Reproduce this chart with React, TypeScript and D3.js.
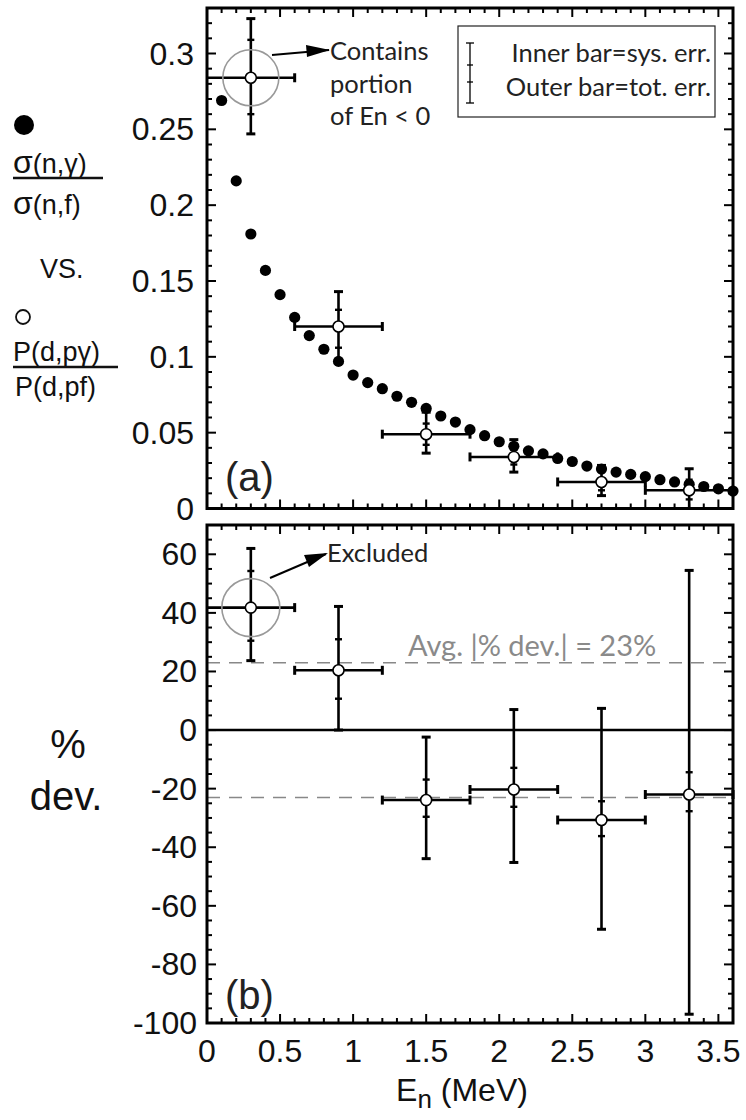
import React from "react";
import * as d3 from "d3";

// ---------- data ----------
// filled dots: sigma(n,gamma)/sigma(n,f)
const dotE = [0.1,0.2,0.3,0.4,0.5,0.6,0.7,0.8,0.9,1.0,1.1,1.2,1.3,1.4,1.5,1.6,1.7,1.8,1.9,2.0,2.1,2.2,2.3,2.4,2.5,2.6,2.7,2.8,2.9,3.0,3.1,3.2,3.3,3.4,3.5,3.6];
const dotR = [0.269,0.216,0.181,0.157,0.141,0.126,0.114,0.105,0.097,0.088,0.083,0.079,0.074,0.070,0.066,0.061,0.057,0.052,0.048,0.044,0.041,0.038,0.036,0.033,0.031,0.028,0.026,0.024,0.0225,0.021,0.019,0.0175,0.016,0.0145,0.013,0.0115];

// open points (surrogate ratio)
const binCenter = [0.3, 0.9, 1.5, 2.1, 2.7, 3.3];
const binLo = [0.0, 0.6, 1.2, 1.8, 2.4, 3.0];
const binHi = [0.6, 1.2, 1.8, 2.4, 3.0, 3.6];
const ratio = [0.284, 0.120, 0.049, 0.034, 0.0175, 0.012];
const ratioTotLo = [0.247, 0.096, 0.0365, 0.024, 0.0085, 0.0];
const ratioTotHi = [0.323, 0.143, 0.0635, 0.0454, 0.0284, 0.0262];
const ratioSysLo = [0.260, 0.106, 0.042, 0.029, 0.012, 0.006];
const ratioSysHi = [0.309, 0.131, 0.056, 0.040, 0.024, 0.019];

// % deviation
const dev = [41.8, 20.4, -23.9, -20.3, -30.7, -22.0];
const devTotLo = [23.7, 0.0, -43.9, -45.2, -68.0, -97.0];
const devTotHi = [62.0, 42.2, -2.4, 7.0, 7.4, 54.5];
const devSysLo = [30.5, 10.7, -29.6, -26.2, -36.2, -27.7];
const devSysHi = [54.3, 31.0, -16.9, -12.9, -24.3, -14.4];
const avgDev = 23;

const xTicks = [0, 0.5, 1, 1.5, 2, 2.5, 3, 3.5];
const xTickLabels = ["0", "0.5", "1", "1.5", "2", "2.5", "3", "3.5"];
const yTopTicks = [0, 0.05, 0.1, 0.15, 0.2, 0.25, 0.3];
const yTopLabels = ["0", "0.05", "0.1", "0.15", "0.2", "0.25", "0.3"];
const yBotTicks = [-100, -80, -60, -40, -20, 0, 20, 40, 60];
const yBotLabels = ["-100", "-80", "-60", "-40", "-20", "0", "20", "40", "60"];

// ---------- layout ----------
const W = 746, H = 1120;
const L = 207, R = 733;
const topT = 8, topB = 508.5;
const botT = 525, botB = 1023;

const HELV = "'Liberation Sans', Arial, Helvetica, sans-serif";
const MYR = "Lato, 'Open Sans', sans-serif";

function range(a: number, b: number, step: number) {
  const out: number[] = [];
  const n = Math.round((b - a) / step);
  for (let i = 0; i <= n; i++) out.push(+(a + i * step).toFixed(6));
  return out;
}

function Frame({ x, y, yMinor, yMajor, top, bottom }: any) {
  const xMinor = range(0, 3.6, 0.1);
  const maj = 9, min = 5;
  const isMajX = (v: number) => Math.abs(v * 2 - Math.round(v * 2)) < 1e-6;
  return (
    <g>
      {xMinor.map((v, i) => {
        const len = isMajX(v) ? maj : min;
        return (
          <g key={"x" + i}>
            <line x1={x(v)} x2={x(v)} y1={bottom} y2={bottom - len} stroke="#000" strokeWidth={2} />
            <line x1={x(v)} x2={x(v)} y1={top} y2={top + len} stroke="#000" strokeWidth={2} />
          </g>
        );
      })}
      {yMinor.map((v: number, i: number) => {
        const len = yMajor(v) ? maj : min;
        return (
          <g key={"y" + i}>
            <line x1={L} x2={L + len} y1={y(v)} y2={y(v)} stroke="#000" strokeWidth={2} />
            <line x1={R} x2={R - len} y1={y(v)} y2={y(v)} stroke="#000" strokeWidth={2} />
          </g>
        );
      })}
      <rect x={L} y={top} width={R - L} height={bottom - top} fill="none" stroke="#000" strokeWidth={3} />
    </g>
  );
}

function ErrPoint({ x, y, cx, lo, hi, v, tlo, thi, slo, shi, clipTop, clipBot }: any) {
  const px = x(cx), py = y(v);
  const yTop = Math.max(y(thi), clipTop);
  const yBot = Math.min(y(tlo), clipBot);
  const xl = Math.max(x(lo), L), xr = Math.min(x(hi), R);
  return (
    <g stroke="#000" strokeWidth={2.6} fill="none">
      <line x1={px} x2={px} y1={yTop} y2={yBot} />
      {y(thi) >= clipTop && <line x1={px - 4.5} x2={px + 4.5} y1={y(thi)} y2={y(thi)} strokeWidth={3} />}
      {y(tlo) <= clipBot && <line x1={px - 4.5} x2={px + 4.5} y1={y(tlo)} y2={y(tlo)} strokeWidth={3} />}
      <line x1={px - 3.5} x2={px + 3.5} y1={y(shi)} y2={y(shi)} strokeWidth={2.4} />
      <line x1={px - 3.5} x2={px + 3.5} y1={y(slo)} y2={y(slo)} strokeWidth={2.4} />
      <line x1={xl} x2={xr} y1={py} y2={py} />
      {x(lo) > L && <line x1={xl} x2={xl} y1={py - 4.5} y2={py + 4.5} strokeWidth={3} />}
      <line x1={xr} x2={xr} y1={py - 4.5} y2={py + 4.5} strokeWidth={3} />
      <circle cx={px} cy={py} r={5.5} fill="#fff" stroke="#000" strokeWidth={1.6} />
    </g>
  );
}

export default function App() {
  const x = d3.scaleLinear().domain([0, 3.6]).range([L, R]);
  const yT = d3.scaleLinear().domain([0, 0.33]).range([topB, topT]);
  const yB = d3.scaleLinear().domain([-100, 70]).range([botB, botT]);

  const yTopMinor = range(0, 0.33, 0.01);
  const yBotMinor = range(-100, 70, 5);

  return (
    <svg width={W} height={H} style={{ position: "absolute", left: 0, top: 0, background: "#fff" }}>
      <rect x={0} y={0} width={W} height={H} fill="#fff" />

      {/* ---------- top panel ---------- */}
      <Frame x={x} y={yT} yMinor={yTopMinor} yMajor={(v: number) => Math.abs(v * 20 - Math.round(v * 20)) < 1e-6} top={topT} bottom={topB} />
      {yTopTicks.map((v, i) => (
        <text key={"ytl" + i} x={L - 13} y={yT(v) + 11} textAnchor="end" fontFamily={HELV} fontSize={32} fill="#111">{yTopLabels[i]}</text>
      ))}
      {dotE.map((e, i) => (
        <circle key={"d" + i} cx={x(e)} cy={yT(dotR[i])} r={5.6} fill="#000" />
      ))}
      {binCenter.map((c, i) => (
        <ErrPoint key={"tp" + i} x={x} y={yT} cx={c} lo={binLo[i]} hi={binHi[i]} v={ratio[i]}
          tlo={ratioTotLo[i]} thi={ratioTotHi[i]} slo={ratioSysLo[i]} shi={ratioSysHi[i]} clipTop={topT} clipBot={topB} />
      ))}
      <circle cx={x(binCenter[0])} cy={yT(ratio[0])} r={28} fill="none" stroke="#999" strokeWidth={1.6} />
      <line x1={272} y1={55} x2={329} y2={50} stroke="#000" strokeWidth={2} />
      <path d="M306,45 L330,50 L307,57 z" fill="#000" />
      <text x={330} y={60} fontFamily={MYR} fontSize={25.5} fill="#222">Contains</text>
      <text x={330} y={93} fontFamily={MYR} fontSize={25.5} fill="#222">portion</text>
      <text x={330} y={125} fontFamily={MYR} fontSize={25.5} fill="#222">of En &lt; 0</text>
      <text x={225} y={491} fontFamily={HELV} fontSize={40} fill="#222">(a)</text>

      {/* legend */}
      <rect x={458} y={26} width={257} height={91} fill="#fff" stroke="#222" strokeWidth={1.2} />
      <g stroke="#000" strokeWidth={1.3}>
        <line x1={470} x2={470} y1={43} y2={103} />
        <line x1={466} x2={474} y1={43} y2={43} />
        <line x1={466} x2={474} y1={103} y2={103} />
        <line x1={467} x2={473} y1={65} y2={65} />
        <line x1={467} x2={473} y1={82} y2={82} />
      </g>
      <text x={711} y={62} textAnchor="end" fontFamily={MYR} fontSize={25.5} fill="#222">Inner bar=sys. err.</text>
      <text x={711} y={96} textAnchor="end" fontFamily={MYR} fontSize={25.5} fill="#222">Outer bar=tot. err.</text>

      {/* ---------- bottom panel ---------- */}
      <line x1={L} x2={R} y1={yB(avgDev)} y2={yB(avgDev)} stroke="#888" strokeWidth={1.4} strokeDasharray="13,9" />
      <line x1={L} x2={R} y1={yB(-avgDev)} y2={yB(-avgDev)} stroke="#888" strokeWidth={1.4} strokeDasharray="13,9" />
      <line x1={L} x2={R} y1={yB(0)} y2={yB(0)} stroke="#000" strokeWidth={2.4} />
      <Frame x={x} y={yB} yMinor={yBotMinor} yMajor={(v: number) => Math.abs(v / 20 - Math.round(v / 20)) < 1e-6} top={botT} bottom={botB} />
      {yBotTicks.map((v, i) => (
        <text key={"ybl" + i} x={L - 10} y={yB(v) + 11} textAnchor="end" fontFamily={HELV} fontSize={32} fill="#111">{yBotLabels[i]}</text>
      ))}
      {binCenter.map((c, i) => (
        <ErrPoint key={"bp" + i} x={x} y={yB} cx={c} lo={binLo[i]} hi={binHi[i]} v={dev[i]}
          tlo={devTotLo[i]} thi={devTotHi[i]} slo={devSysLo[i]} shi={devSysHi[i]} clipTop={botT} clipBot={botB} />
      ))}
      <circle cx={x(binCenter[0])} cy={yB(dev[0])} r={29} fill="none" stroke="#999" strokeWidth={1.6} />
      <line x1={270} y1={578} x2={326} y2={554} stroke="#000" strokeWidth={2} />
      <path d="M304,555 L328,553 L309,567 z" fill="#000" />
      <text x={327} y={562} fontFamily={MYR} fontSize={25.5} fill="#222">Excluded</text>
      <text x={408} y={656} fontFamily={MYR} fontSize={29} fill="#8a8a8a">Avg. |% dev.| = 23%</text>
      <text x={225} y={1009} fontFamily={HELV} fontSize={40} fill="#222">(b)</text>

      {/* x axis labels */}
      {xTicks.map((v, i) => (
        <text key={"xtl" + i} x={x(v)} y={1062} textAnchor="middle" fontFamily={HELV} fontSize={32} fill="#111">{xTickLabels[i]}</text>
      ))}
      <text x={462} y={1101} textAnchor="middle" fontFamily={HELV} fontSize={32} fill="#111">
        E<tspan fontSize={26} dy={7}>n</tspan><tspan dy={-7}> (MeV)</tspan>
      </text>

      {/* left-side labels */}
      <circle cx={24} cy={125} r={10} fill="#000" />
      <text x={13} y={173} fontFamily={HELV} fontSize={27} fill="#111"><tspan fontSize={32}>σ</tspan>(n,γ)</text>
      <line x1={13} x2={103} y1={178} y2={178} stroke="#111" strokeWidth={2.5} />
      <text x={13} y={214} fontFamily={HELV} fontSize={27} fill="#111"><tspan fontSize={32}>σ</tspan>(n,f)</text>
      <text x={40} y={278} fontFamily={HELV} fontSize={27} fill="#111">VS.</text>
      <circle cx={23} cy={317} r={7} fill="#fff" stroke="#111" strokeWidth={1.8} />
      <text x={13} y={361} fontFamily={HELV} fontSize={27} fill="#111">P(d,pγ)</text>
      <line x1={13} x2={118} y1={367} y2={367} stroke="#111" strokeWidth={2.5} />
      <text x={15} y={396} fontFamily={HELV} fontSize={27} fill="#111">P(d,pf)</text>
      <text x={68} y={758} textAnchor="middle" fontFamily={HELV} fontSize={40} fill="#111">%</text>
      <text x={66} y={810} textAnchor="middle" fontFamily={HELV} fontSize={40} fill="#111">dev.</text>
    </svg>
  );
}
